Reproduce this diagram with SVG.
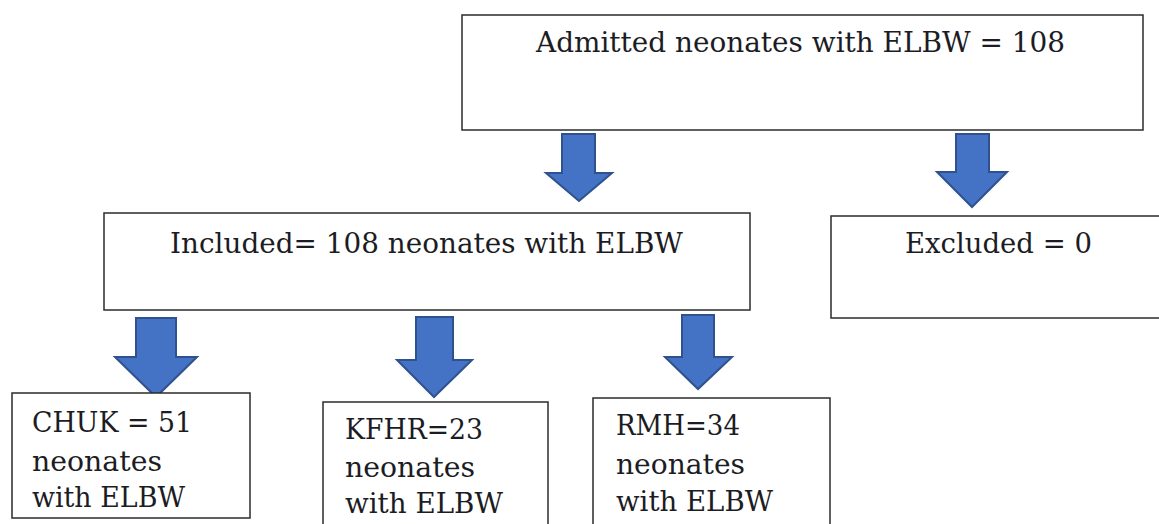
<svg xmlns="http://www.w3.org/2000/svg" width="1159" height="524" viewBox="0 0 1159 524">
<style>
.box{fill:#ffffff;stroke:#2b2b2b;stroke-width:1.5}
.t{font-family:"DejaVu Serif","Liberation Serif",serif;font-size:27px;fill:#1c1c24}
.arr{fill:#4472C4;stroke:#2F528F;stroke-width:2;stroke-linejoin:miter}
</style>
<rect width="1159" height="524" fill="#ffffff"/>
<g id="connectors">
<polygon class="arr" points="562,134 595,134 595,173 612,173 579,201 546,173 562,173"/>
<polygon class="arr" points="956,134 989,134 989,172 1007,172 972,207 937,172 956,172"/>
<polygon class="arr" points="136,318 176,318 176,357 197,357 156,397 115,357 136,357"/>
<polygon class="arr" points="416,317 453,317 453,360 472,360 434,397 397,360 416,360"/>
<polygon class="arr" points="682,315 714,315 714,357 732,357 698,389 665,357 682,357"/>
</g>
<g id="admitted">
<rect class="box" x="462" y="15" width="681" height="115"/>
<text class="t" x="536" y="52" textLength="529" lengthAdjust="spacingAndGlyphs">Admitted neonates with ELBW = 108</text>
</g>
<g id="included">
<rect class="box" x="104" y="213" width="646" height="97"/>
<text class="t" x="170" y="253" textLength="513" lengthAdjust="spacingAndGlyphs">Included= 108 neonates with ELBW</text>
</g>
<g id="excluded">
<rect class="box" x="831" y="216" width="340" height="102"/>
<text class="t" x="905" y="253" textLength="187" lengthAdjust="spacingAndGlyphs">Excluded = 0</text>
</g>
<g id="chuk">
<rect class="box" x="12" y="393" width="238" height="125"/>
<text class="t" x="32" y="432" textLength="160" lengthAdjust="spacingAndGlyphs">CHUK = 51</text>
<text class="t" x="32" y="471" textLength="130" lengthAdjust="spacingAndGlyphs">neonates</text>
<text class="t" x="32" y="507" textLength="153" lengthAdjust="spacingAndGlyphs">with ELBW</text>
</g>
<g id="kfhr">
<rect class="box" x="323" y="402" width="225" height="130"/>
<text class="t" x="345" y="439" textLength="138" lengthAdjust="spacingAndGlyphs">KFHR=23</text>
<text class="t" x="345" y="477" textLength="130" lengthAdjust="spacingAndGlyphs">neonates</text>
<text class="t" x="345" y="513" textLength="158" lengthAdjust="spacingAndGlyphs">with ELBW</text>
</g>
<g id="rmh">
<rect class="box" x="593" y="398" width="237" height="134"/>
<text class="t" x="616" y="435" textLength="124" lengthAdjust="spacingAndGlyphs">RMH=34</text>
<text class="t" x="616" y="474" textLength="129" lengthAdjust="spacingAndGlyphs">neonates</text>
<text class="t" x="616" y="511" textLength="157" lengthAdjust="spacingAndGlyphs">with ELBW</text>
</g>
</svg>
